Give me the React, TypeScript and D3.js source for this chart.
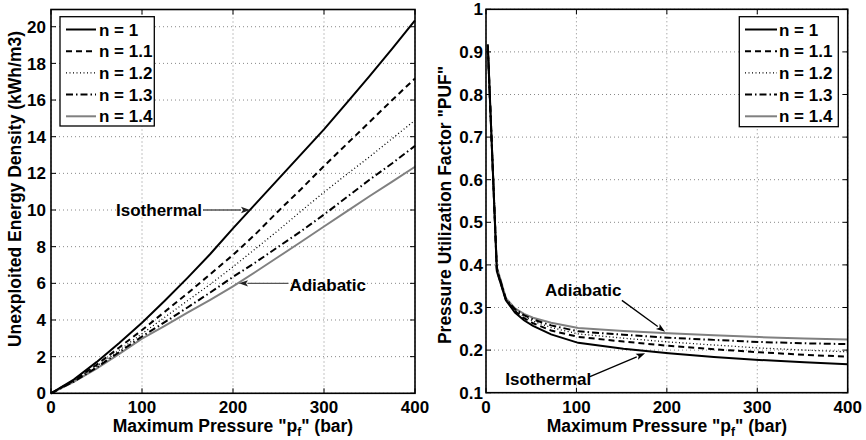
import React from 'react';
import * as d3 from 'd3';

// ---------- data ----------
const PRESSURE = [0, 25, 50, 75, 100, 125, 150, 175, 200, 225, 250, 275, 300, 325, 350, 375, 400];
const ENERGY_N10 = [0, 0.75, 1.7, 2.75, 3.85, 5.05, 6.3, 7.6, 9.0, 10.35, 11.7, 13.05, 14.4, 15.85, 17.3, 18.8, 20.35];
const ENERGY_N11 = [0, 0.7, 1.55, 2.5, 3.45, 4.45, 5.45, 6.5, 7.55, 8.7, 9.95, 11.15, 12.4, 13.6, 14.8, 16.0, 17.18];
const ENERGY_N12 = [0, 0.68, 1.48, 2.35, 3.25, 4.15, 5.05, 5.95, 6.9, 7.9, 8.9, 9.95, 10.97, 11.95, 12.9, 13.9, 14.9];
const ENERGY_N13 = [0, 0.64, 1.4, 2.25, 3.1, 3.88, 4.68, 5.5, 6.35, 7.15, 8.0, 8.85, 9.75, 10.7, 11.65, 12.55, 13.5];
const ENERGY_N14 = [0, 0.62, 1.35, 2.15, 2.98, 3.68, 4.4, 5.1, 5.83, 6.63, 7.45, 8.27, 9.1, 9.93, 10.75, 11.55, 12.36];

const PRESSURE_PUF = [2, 12, 22, 32, 42, 52, 72, 102, 152, 202, 252, 302, 352, 400];
const PUF_N10 = [0.918, 0.385, 0.317, 0.288, 0.27, 0.257, 0.237, 0.217, 0.203, 0.1925, 0.184, 0.177, 0.1715, 0.167];
const PUF_N11 = [0.915, 0.388, 0.318, 0.291, 0.275, 0.263, 0.246, 0.231, 0.22, 0.21, 0.202, 0.195, 0.189, 0.1845];
const PUF_N12 = [0.912, 0.39, 0.319, 0.294, 0.279, 0.268, 0.253, 0.238, 0.228, 0.219, 0.212, 0.205, 0.2, 0.196];
const PUF_N13 = [0.91, 0.392, 0.32, 0.296, 0.282, 0.272, 0.258, 0.244, 0.236, 0.229, 0.224, 0.219, 0.216, 0.214];
const PUF_N14 = [0.905, 0.395, 0.322, 0.298, 0.285, 0.276, 0.264, 0.252, 0.245, 0.2395, 0.235, 0.2305, 0.2275, 0.225];

const LEGEND_LABELS = ['n = 1', 'n = 1.1', 'n = 1.2', 'n = 1.3', 'n = 1.4'];
const X_TICKS = [0, 100, 200, 300, 400];
const Y_TICKS_LEFT = [0, 2, 4, 6, 8, 10, 12, 14, 16, 18, 20];
const Y_TICKS_RIGHT = [0.1, 0.2, 0.3, 0.4, 0.5, 0.6, 0.7, 0.8, 0.9, 1];

// ---------- styling ----------
const FONT = '"Liberation Sans", Arial, Helvetica, sans-serif';
const FS = 17;
const LINE_STYLES = [
  { stroke: '#000', dash: undefined as string | undefined, width: 2 },
  { stroke: '#000', dash: '6,4', width: 2 },
  { stroke: '#000', dash: '1,2.5', width: 1.3 },
  { stroke: '#000', dash: '7,3,1.5,3', width: 2 },
  { stroke: '#808080', dash: undefined as string | undefined, width: 2 },
];

type Ann = {
  label: string;
  text: [number, number];
  anchor: 'start' | 'middle' | 'end';
  tail: [number, number];
  tip: [number, number];
  lineColor: string;
  headColor: string;
};

const LEFT_ANN: Ann[] = [
  { label: 'Isothermal', text: [166, 10.0], anchor: 'end', tail: [167, 10.0], tip: [218.7, 10.0], lineColor: '#555', headColor: '#222' },
  { label: 'Adiabatic', text: [262, 5.9], anchor: 'start', tail: [261, 6.0], tip: [206.6, 6.0], lineColor: '#555', headColor: '#222' },
];
const RIGHT_ANN: Ann[] = [
  { label: 'Adiabatic', text: [107.6, 0.341], anchor: 'middle', tail: [150.3, 0.3167], tip: [198, 0.243], lineColor: '#000', headColor: '#000' },
  { label: 'Isothermal', text: [68.9, 0.1314], anchor: 'middle', tail: [115, 0.1376], tip: [175.9, 0.1925], lineColor: '#000', headColor: '#000' },
];

type PanelProps = {
  x0: number; x1: number; y0: number; y1: number;
  yDomain: [number, number];
  yTicks: number[];
  yFmt: (v: number) => string;
  yTickGap: number;
  xs: number[];
  series: number[][];
  legend: { x: number; y: number; w: number; h: number; lineX0: number; lineX1: number; textX: number; rowY0: number; rowDy: number };
  yLabel: string;
  yLabelX: number;
  yLabelY: number;
  anns: Ann[];
};

function Arrow({ x1, y1, x2, y2, lineColor, headColor }: { x1: number; y1: number; x2: number; y2: number; lineColor: string; headColor: string }) {
  const ang = Math.atan2(y2 - y1, x2 - x1);
  const L = 9, W = 3.2;
  const bx = x2 - L * Math.cos(ang), by = y2 - L * Math.sin(ang);
  const px = -Math.sin(ang) * W, py = Math.cos(ang) * W;
  return (
    <g>
      <line x1={x1} y1={y1} x2={bx} y2={by} stroke={lineColor} strokeWidth={1.3} />
      <path d={`M${x2},${y2}L${bx + px},${by + py}L${bx + 2 * Math.cos(ang)},${by + 2 * Math.sin(ang)}L${bx - px},${by - py}Z`} fill={headColor} />
    </g>
  );
}

function Panel(p: PanelProps) {
  const xScale = d3.scaleLinear().domain([0, 400]).range([p.x0, p.x1]);
  const yScale = d3.scaleLinear().domain(p.yDomain).range([p.y1, p.y0]);
  const line = d3.line<[number, number]>().x(d => xScale(d[0])).y(d => yScale(d[1]));
  const tickLen = 5;
  return (
    <g fontFamily={FONT} fontWeight="bold">
      <rect x={p.x0} y={p.y0} width={p.x1 - p.x0} height={p.y1 - p.y0} fill="#fff" />
      {X_TICKS.map(t => (
        <line key={'gx' + t} x1={xScale(t)} x2={xScale(t)} y1={p.y0} y2={p.y1} stroke="#888" strokeWidth={1} strokeDasharray="1,3" />
      ))}
      {p.yTicks.map(t => (
        <line key={'gy' + t} x1={p.x0} x2={p.x1} y1={yScale(t)} y2={yScale(t)} stroke="#888" strokeWidth={1} strokeDasharray="1,3" />
      ))}
      {p.series.map((s, i) => ({ s, i })).reverse().map(({ s, i }) => (
        <path key={'s' + i} d={line(p.xs.map((x, k) => [x, s[k]] as [number, number])) || ''} fill="none"
          stroke={LINE_STYLES[i].stroke} strokeWidth={LINE_STYLES[i].width} strokeDasharray={LINE_STYLES[i].dash} />
      ))}
      {X_TICKS.map(t => (
        <g key={'tx' + t}>
          <line x1={xScale(t)} x2={xScale(t)} y1={p.y1} y2={p.y1 - tickLen} stroke="#000" strokeWidth={1} />
          <line x1={xScale(t)} x2={xScale(t)} y1={p.y0} y2={p.y0 + tickLen} stroke="#000" strokeWidth={1} />
          <text x={xScale(t)} y={p.y1 + 20} textAnchor="middle" fontSize={FS}>{t}</text>
        </g>
      ))}
      {p.yTicks.map(t => (
        <g key={'ty' + t}>
          <line x1={p.x0} x2={p.x0 + tickLen} y1={yScale(t)} y2={yScale(t)} stroke="#000" strokeWidth={1} />
          <line x1={p.x1} x2={p.x1 - tickLen} y1={yScale(t)} y2={yScale(t)} stroke="#000" strokeWidth={1} />
          <text x={p.x0 - p.yTickGap} y={yScale(t)} dy="0.36em" textAnchor="end" fontSize={FS}>{p.yFmt(t)}</text>
        </g>
      ))}
      <rect x={p.x0} y={p.y0} width={p.x1 - p.x0} height={p.y1 - p.y0} fill="none" stroke="#000" strokeWidth={1.6} />
      {p.anns.map(a => (
        <g key={a.label}>
          <text x={xScale(a.text[0])} y={yScale(a.text[1])} dy="0.36em" textAnchor={a.anchor} fontSize={FS}>{a.label}</text>
          <Arrow x1={xScale(a.tail[0])} y1={yScale(a.tail[1])} x2={xScale(a.tip[0])} y2={yScale(a.tip[1])} lineColor={a.lineColor} headColor={a.headColor} />
        </g>
      ))}
      <rect x={p.legend.x} y={p.legend.y} width={p.legend.w} height={p.legend.h} fill="#fff" stroke="#000" strokeWidth={1.3} />
      {LEGEND_LABELS.map((lab, i) => {
        const y = p.legend.rowY0 + i * p.legend.rowDy;
        return (
          <g key={lab}>
            <line x1={p.legend.lineX0} x2={p.legend.lineX1} y1={y} y2={y} stroke={LINE_STYLES[i].stroke}
              strokeWidth={LINE_STYLES[i].width} strokeDasharray={LINE_STYLES[i].dash} />
            <text x={p.legend.textX} y={y} dy="0.36em" fontSize={FS}>{lab}</text>
          </g>
        );
      })}
      <text x={(p.x0 + p.x1) / 2} y={432} textAnchor="middle" fontSize={17.5}>
        Maximum Pressure "p<tspan dy={4} fontSize={12}>f</tspan><tspan dy={-4}>" (bar)</tspan>
      </text>
      <text transform={`translate(${p.yLabelX},${p.yLabelY}) rotate(-90)`} textAnchor="middle" dy="0.36em" fontSize={17.5}>{p.yLabel}</text>
    </g>
  );
}

export default function App() {
  return (
    <svg width={866} height={440} style={{ position: 'absolute', left: 0, top: 0, background: '#fff' }}>
      <rect x={0} y={0} width={866} height={440} fill="#fff" />
      <Panel
        x0={51} x1={415} y0={9.5} y1={393.3}
        yDomain={[0, 20.94]}
        yTicks={Y_TICKS_LEFT}
        yFmt={v => String(v)}
        yTickGap={5}
        xs={PRESSURE}
        series={[ENERGY_N10, ENERGY_N11, ENERGY_N12, ENERGY_N13, ENERGY_N14]}
        legend={{ x: 60, y: 16.7, w: 94.3, h: 109.3, lineX0: 66, lineX1: 96, textX: 99, rowY0: 29.5, rowDy: 21.7 }}
        yLabel="Unexploited Energy Density (kWh/m3)"
        yLabelX={15}
        yLabelY={189}
        anns={LEFT_ANN}
      />
      <Panel
        x0={486} x1={847.7} y0={9.3} y1={392.7}
        yDomain={[0.1, 1]}
        yTicks={Y_TICKS_RIGHT}
        yFmt={v => (v === 1 ? '1' : d3.format('.1f')(v))}
        yTickGap={3}
        xs={PRESSURE_PUF}
        series={[PUF_N10, PUF_N11, PUF_N12, PUF_N13, PUF_N14]}
        legend={{ x: 739.3, y: 16.7, w: 99, h: 110, lineX0: 745, lineX1: 777, textX: 779, rowY0: 29.5, rowDy: 21.7 }}
        yLabel={'Pressure Utilization Factor "PUF"'}
        yLabelX={444.5}
        yLabelY={205}
        anns={RIGHT_ANN}
      />
    </svg>
  );
}
